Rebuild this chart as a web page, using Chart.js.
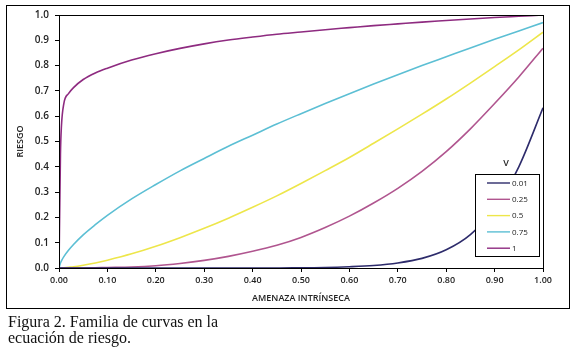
<!DOCTYPE html>
<html>
<head>
<meta charset="utf-8">
<script src="https://cdn.jsdelivr.net/npm/chart.js@4.4.1/dist/chart.umd.min.js"></script>
<style>
  body { margin: 0; background: #fff; }
  #frame { position: absolute; left: 6px; top: 5px; width: 562px; height: 302px; border: 1px solid #000; }
  #wrap { position: absolute; left: 0; top: 0; width: 578px; height: 351px; }
  #caption { position: absolute; left: 8px; top: 314px; font-family: "Liberation Serif", serif; font-size: 16px; line-height: 15.5px; color: #111; }
</style>
</head>
<body>
<div id="frame"></div>
<div id="wrap"><canvas id="myChart" width="578" height="351"></canvas></div>
<div id="caption">Figura 2. Familia de curvas en la<br>ecuación de riesgo.</div>
<script>
// amenaza intrinseca (x) and riesgo (y) for each V
const amenaza = [0, 0.003, 0.005, 0.01, 0.02, 0.03, 0.05, 0.075, 0.1, 0.15, 0.2, 0.25, 0.3, 0.35, 0.4, 0.45, 0.5, 0.55, 0.6, 0.65, 0.7, 0.75, 0.8, 0.85, 0.9, 0.95, 1.0];
const v001 = [0, 0, 0, 0, 0, 0, 0, 0, 0, 0, 0, 0, 0, 0, 0, 0, 0.001, 0.002, 0.005, 0.01, 0.02, 0.038, 0.072, 0.132, 0.235, 0.4, 0.633];
const v025 = [0, 0, 0, 0, 0, 0, 0, 0.001, 0.002, 0.004, 0.009, 0.018, 0.03, 0.046, 0.066, 0.09, 0.121, 0.16, 0.205, 0.257, 0.315, 0.382, 0.46, 0.55, 0.65, 0.755, 0.869];
const v05 = [0, 0, 0, 0.001, 0.003, 0.005, 0.011, 0.02, 0.031, 0.056, 0.086, 0.12, 0.157, 0.197, 0.24, 0.285, 0.334, 0.385, 0.437, 0.493, 0.55, 0.608, 0.668, 0.731, 0.796, 0.862, 0.932];
const v075 = [0, 0.02, 0.028, 0.045, 0.071, 0.093, 0.131, 0.171, 0.208, 0.273, 0.33, 0.384, 0.433, 0.481, 0.525, 0.569, 0.61, 0.65, 0.689, 0.727, 0.764, 0.80, 0.835, 0.87, 0.904, 0.937, 0.97];
const v1 = [0, 0.45, 0.56, 0.65, 0.69, 0.713, 0.745, 0.771, 0.79, 0.822, 0.847, 0.868, 0.886, 0.901, 0.913, 0.924, 0.933, 0.942, 0.95, 0.958, 0.965, 0.972, 0.978, 0.984, 0.99, 0.995, 1.0];

const seriesNames = ['0.01', '0.25', '0.5', '0.75', '1'];
const seriesColors = ['#2d2b6b', '#b0558f', '#ede64a', '#5cbfd4', '#8e2b80'];
const xTickLabels = ['0.00', '0.10', '0.20', '0.30', '0.40', '0.50', '0.60', '0.70', '0.80', '0.90', '1.00'];
const yTickLabels = ['0.0', '0.1', '0.2', '0.3', '0.4', '0.5', '0.6', '0.7', '0.8', '0.9', '1.0'];

const allSeries = [v001, v025, v05, v075, v1];
const datasets = allSeries.map((vals, i) => ({
    label: seriesNames[i],
    data: vals.map((y, j) => ({x: amenaza[j], y: y})),
    borderColor: seriesColors[i],
    borderWidth: 1.6,
    pointRadius: 0,
    fill: false,
    cubicInterpolationMode: 'monotone'
}));

// plot frame + legend box inside the plot
const framePlugin = {
    id: 'framePlugin',
    afterDraw(chart) {
        const c = chart.ctx;
        const ca = chart.chartArea;
        c.save();
        c.strokeStyle = '#000';
        c.lineWidth = 1;
        c.strokeRect(ca.left + 0.5, ca.top + 0.5, ca.right - ca.left, ca.bottom - ca.top);

        const bx = ca.right - 68, by = ca.bottom - 94, bw = 64, bh = 82;
        c.fillStyle = '#fff';
        c.fillRect(bx, by, bw, bh);
        c.strokeRect(bx + 0.5, by + 0.5, bw, bh);

        c.fillStyle = '#222';
        c.font = '600 9px "Open Sans"';
        c.textAlign = 'center';
        c.textBaseline = 'middle';
        c.fillText('V', bx + 31, by - 11);

        c.font = '8px "Open Sans"';
        c.textAlign = 'left';
        chart.data.datasets.forEach((ds, i) => {
            const yy = by + 9 + i * 16.3;
            c.strokeStyle = ds.borderColor;
            c.lineWidth = 1.4;
            c.beginPath();
            c.moveTo(bx + 12, yy);
            c.lineTo(bx + 35, yy);
            c.stroke();
            c.fillStyle = '#222';
            c.fillText(ds.label, bx + 37, yy + 0.5);
        });
        c.restore();
    }
};

const ctx = document.getElementById('myChart').getContext('2d');
const myChart = new Chart(ctx, {
    type: 'line',
    data: { datasets: datasets },
    options: {
        responsive: false,
        animation: false,
        layout: { padding: { left: 0, top: 15, right: 35, bottom: 46 } },
        plugins: { legend: { display: false }, tooltip: { enabled: false } },
        scales: {
            x: {
                type: 'linear',
                min: 0, max: 1,
                afterFit(scale) { scale.height = 37; },
                border: { display: false },
                grid: { drawOnChartArea: false, drawTicks: true, tickLength: 4, color: '#000' },
                ticks: {
                    stepSize: 0.1, padding: 3, color: '#222',
                    font: { family: 'Open Sans', size: 9, weight: '600' },
                    maxRotation: 0,
                    callback: (v, i) => xTickLabels[i]
                },
                title: {
                    display: true, text: 'AMENAZA INTRÍNSECA', color: '#222',
                    font: { family: 'Open Sans', size: 9, weight: '600' },
                    padding: { top: 0, bottom: 1.6 }
                }
            },
            y: {
                min: 0, max: 1,
                afterFit(scale) { scale.width = 59; },
                border: { display: false },
                grid: { drawOnChartArea: false, drawTicks: true, tickLength: 4, color: '#000' },
                ticks: {
                    stepSize: 0.1, padding: 6, color: '#222',
                    font: { family: 'Open Sans', size: 10, weight: '600' },
                    callback: (v, i) => yTickLabels[i]
                },
                title: {
                    display: true, text: 'RIESGO', color: '#222',
                    font: { family: 'Open Sans', size: 9, weight: '600' },
                    padding: { top: 14.6, bottom: 0 }
                }
            }
        }
    },
    plugins: [framePlugin]
});
</script>
</body>
</html>
